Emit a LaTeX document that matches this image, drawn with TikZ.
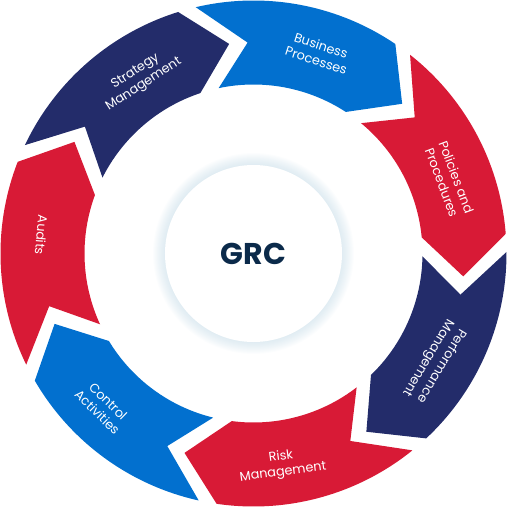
\documentclass[tikz,border=0pt]{standalone}
\usepackage{fontspec}
\setmainfont{Poppins}
\definecolor{cblue}{HTML}{0270CF}
\definecolor{cred}{HTML}{D81A36}
\definecolor{cnavy}{HTML}{232C6A}
\definecolor{ctext}{HTML}{0B2A4A}
\definecolor{glowc}{HTML}{A9CADC}
\begin{document}
\begin{tikzpicture}[x=1pt,y=1pt,
  lbl/.style={text=white, font=\fontsize{12.8}{15.5}\selectfont, align=center, inner sep=0pt},
  title/.style={text=ctext, font=\fontsize{30}{30}\selectfont\bfseries}]
\useasboundingbox (-253.5,-253.5) rectangle (253.5,253.5);
\foreach \k/\col in {0/cblue,1/cred,2/cnavy,3/cred,4/cblue,5/cred,6/cnavy}{
  \pgfmathsetmacro\r{-\k*360/7}
  \fill[\col] (103.2+\r:253) -- (91.6+\r:211) -- (101.9+\r:169)
     arc[start angle=101.9+\r, end angle=56.9+\r, radius=169]
     -- (45.2+\r:211) -- (55.9+\r:253)
     arc[start angle=55.9+\r, end angle=103.2+\r, radius=253] -- cycle;
}
\foreach \i in {1,...,12}{
  \fill[glowc, opacity=0.035] (0,0) circle (88.5+\i);
}
\fill[white] (0,0) circle (88.5);
\node[title] (grc) at (0,0) {GRC};
\node[lbl, rotate=-18] (bp) at (72:211) {Business\\Processes};
\node[lbl, rotate=-69.4] (pp) at (20.6:209) {Policies and\\Procedures};
\node[lbl, rotate=-121] (pm) at (-30.9:211) {Performance\\Management};
\node[lbl, rotate=7.7] (rm) at (-82.3:213) {Risk\\Management};
\node[lbl, rotate=-44.5] (ca) at (-134.5:215) {Control\\Activities};
\node[lbl, rotate=-95] (au) at (175:213) {Audits};
\node[lbl, rotate=33] (sm) at (123:209) {Strategy\\Management};
\end{tikzpicture}
\end{document}
